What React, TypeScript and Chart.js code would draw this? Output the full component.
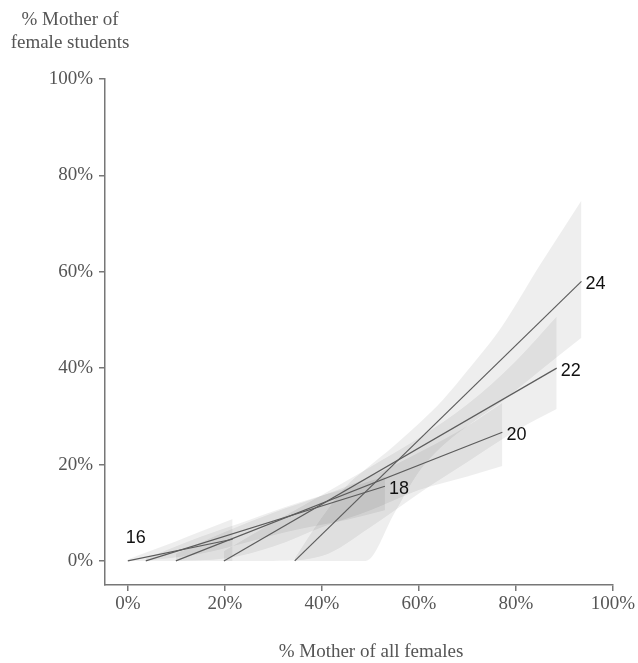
import React, { useEffect, useRef } from "react";
import { Chart, registerables } from "chart.js";

Chart.register(...registerables);

// ---- data ----
const xTicks = [0, 20, 40, 60, 80, 100];
const yTicks = [0, 20, 40, 60, 80, 100];
const ageLabels = ["16", "18", "20", "22", "24"];
const lineStartX = [0, 3.7, 9.9, 19.8, 34.4];
const lineStartY = [0, 0, 0, 0, 0];
const lineEndX = [21.6, 53, 77.2, 88.4, 93.5];
const lineEndY = [4.5, 15.5, 26.7, 40.0, 58.0];

const band16X = [0, 5, 10, 15, 21.6];
const band16Lo = [0, 0, 0, 0, 0];
const band16Hi = [0.3, 2.2, 4.1, 6.1, 8.7];

const band18X = [3.7, 15, 25, 35, 45, 53];
const band18Lo = [0, 1.5, 4, 6.5, 8.5, 10.5];
const band18Hi = [0.5, 5, 8.5, 12, 15, 17.5];

const band20X = [9.9, 20, 30, 40, 50, 60, 70, 77.2];
const band20Lo = [0, 0.5, 3, 7, 10.5, 14.7, 17.5, 19.7];
const band20Hi = [1.5, 6, 10, 13.5, 17.5, 22.5, 28, 32.8];

const band22X = [19.8, 30, 40, 50, 60, 70, 80, 88.4];
const band22Lo = [0, 0, 1, 7, 14, 20.5, 27, 31.5];
const band22Hi = [2, 8, 13.7, 19.5, 25.5, 32.5, 41.5, 50.7];

const band24X = [34.4, 40, 45, 49, 55, 60, 65, 70, 77, 85, 93.5];
const band24Lo = [0, 0, 0, 0, 10, 18.5, 24, 28, 33, 39.5, 46.3];
const band24Hi = [0.5, 9, 15.5, 19, 24, 28.5, 33.5, 39.5, 48.5, 61.5, 74.8];

const bands = [
  { x: band16X, lo: band16Lo, hi: band16Hi },
  { x: band18X, lo: band18Lo, hi: band18Hi },
  { x: band20X, lo: band20Lo, hi: band20Hi },
  { x: band22X, lo: band22Lo, hi: band22Hi },
  { x: band24X, lo: band24Lo, hi: band24Hi },
];

const xTitle = "% Mother of all females";
const yTitleLines = ["% Mother of", "female students"];

const SERIF = "'Liberation Serif', 'Times New Roman', serif";
const SANS = "'Liberation Sans', Arial, sans-serif";

export default function App() {
  const ref = useRef<HTMLCanvasElement | null>(null);

  useEffect(() => {
    document.body.style.margin = "0";
    const canvas = ref.current;
    if (!canvas) return;

    const datasets: any[] = [];
    bands.forEach((b) => {
      datasets.push({
        data: b.x.map((x, i) => ({ x, y: b.lo[i] })),
        borderColor: "rgba(0,0,0,0)",
        borderWidth: 0,
        pointRadius: 0,
        fill: false,
        cubicInterpolationMode: "monotone",
      });
      datasets.push({
        data: b.x.map((x, i) => ({ x, y: b.hi[i] })),
        borderColor: "rgba(0,0,0,0)",
        borderWidth: 0,
        pointRadius: 0,
        fill: "-1",
        backgroundColor: "rgba(0,0,0,0.065)",
        cubicInterpolationMode: "monotone",
      });
    });
    ageLabels.forEach((_, i) => {
      datasets.push({
        data: [
          { x: lineStartX[i], y: lineStartY[i] },
          { x: lineEndX[i], y: lineEndY[i] },
        ],
        borderColor: "#5c5c5c",
        borderWidth: 1.2,
        pointRadius: 0,
        fill: false,
      });
    });

    const textPlugin = {
      id: "texts",
      afterDraw(chart: any) {
        const ctx = chart.ctx;
        const xs = chart.scales.x;
        const ys = chart.scales.y;
        ctx.save();
        ctx.fillStyle = "#111";
        ctx.font = `18px ${SANS}`;
        ctx.textBaseline = "middle";
        ageLabels.forEach((lab, i) => {
          if (i === 0) {
            ctx.textAlign = "center";
            ctx.fillText(
              lab,
              xs.getPixelForValue(lineStartX[i]) + 8,
              ys.getPixelForValue(lineStartY[i]) - 23
            );
          } else {
            ctx.textAlign = "left";
            ctx.fillText(
              lab,
              xs.getPixelForValue(lineEndX[i]) + 4,
              ys.getPixelForValue(lineEndY[i]) + 3
            );
          }
        });
        ctx.fillStyle = "#555";
        ctx.font = `19px ${SERIF}`;
        ctx.textAlign = "center";
        ctx.fillText(xTitle, chart.chartArea.left + 266, 652);
        yTitleLines.forEach((t, i) => {
          ctx.fillText(t, chart.chartArea.left - 35, 20 + i * 23);
        });
        ctx.restore();
      },
    };

    const tickFont = { family: SERIF, size: 19 };

    const chart = new Chart(canvas, {
      type: "line",
      data: { datasets },
      options: {
        animation: false,
        responsive: true,
        maintainAspectRatio: false,
        layout: { padding: { top: 79, right: 25, left: 0, bottom: 0 } },
        plugins: {
          legend: { display: false },
          tooltip: { enabled: false },
          filler: { drawTime: "beforeDatasetsDraw" },
        },
        scales: {
          x: {
            type: "linear",
            min: -4.7,
            max: 100,
            afterBuildTicks: (s: any) => {
              s.ticks = xTicks.map((v) => ({ value: v }));
            },
            afterFit: (s: any) => {
              s.height = 78;
            },
            ticks: {
              callback: (v: any) => v + "%",
              font: tickFont,
              color: "#555",
              padding: 2,
              maxRotation: 0,
              autoSkip: false,
            },
            grid: {
              display: true,
              drawOnChartArea: false,
              drawTicks: true,
              tickLength: 6,
              color: "#777",
              lineWidth: 1.5,
            },
            border: { display: true, color: "#777", width: 1.5 },
          },
          y: {
            type: "linear",
            min: -5,
            max: 100,
            afterBuildTicks: (s: any) => {
              s.ticks = yTicks.map((v) => ({ value: v }));
            },
            afterFit: (s: any) => {
              s.width = 105;
            },
            ticks: {
              callback: (v: any) => v + "%",
              font: tickFont,
              color: "#555",
              padding: 6,
              autoSkip: false,
            },
            grid: {
              display: true,
              drawOnChartArea: false,
              drawTicks: true,
              tickLength: 6,
              color: "#777",
              lineWidth: 1.5,
            },
            border: { display: true, color: "#777", width: 1.5 },
          },
        },
      } as any,
      plugins: [textPlugin],
    });

    return () => chart.destroy();
  }, []);

  return (
    <div style={{ width: 638, height: 663, position: "relative" }}>
      <canvas ref={ref} />
    </div>
  );
}
